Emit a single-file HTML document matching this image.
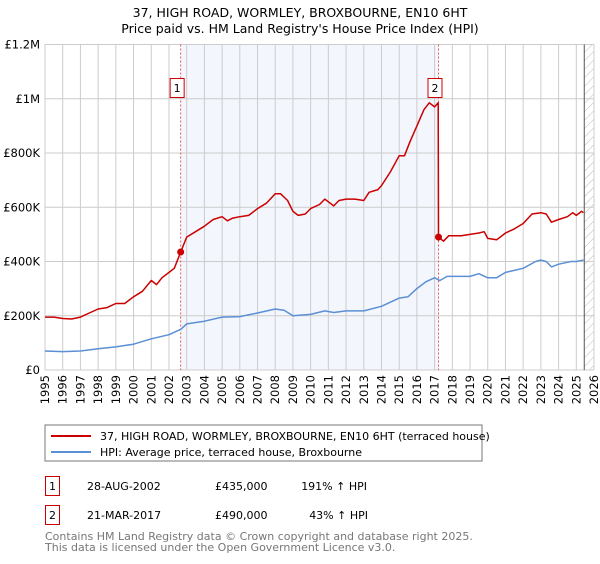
<!DOCTYPE html>
<html><head><meta charset="utf-8"><style>
body{margin:0;background:#fff;width:600px;height:560px;overflow:hidden;font-family:"DejaVu Sans","Liberation Sans",sans-serif;}
svg text{font-family:"DejaVu Sans","Liberation Sans",sans-serif;}
</style></head><body>
<svg id="chart" width="600" height="560">
<defs><pattern id="hatch" width="6" height="6" patternUnits="userSpaceOnUse" patternTransform="rotate(45)"><line x1="0" y1="0" x2="0" y2="6" stroke="#bbb" stroke-width="1"/></pattern></defs>
<text x="300" y="17" text-anchor="middle" font-size="12.5">37, HIGH ROAD, WORMLEY, BROXBOURNE, EN10 6HT</text>
<text x="300" y="33" text-anchor="middle" font-size="12.5">Price paid vs. HM Land Registry's House Price Index (HPI)</text>
<g id="plot"></g>
<rect x="45" y="425" width="437" height="36" fill="#fff" stroke="#777"/>
<line x1="51" y1="436" x2="91" y2="436" stroke="#cc0000" stroke-width="2"/>
<text x="100" y="440" font-size="11">37, HIGH ROAD, WORMLEY, BROXBOURNE, EN10 6HT (terraced house)</text>
<line x1="51" y1="452" x2="91" y2="452" stroke="#5b8fd6" stroke-width="2"/>
<text x="100" y="456" font-size="11">HPI: Average price, terraced house, Broxbourne</text>
<g>
<rect x="45.5" y="476.5" width="14" height="19" fill="#fff" stroke="#cc0000"/>
<text x="52.5" y="490" text-anchor="middle" font-size="11">1</text>
<text x="87" y="490" font-size="11">28-AUG-2002</text>
<text x="215" y="490" font-size="11">£435,000</text>
<text x="367" y="490" text-anchor="end" font-size="11">191% ↑ HPI</text></g>
<g>
<rect x="45.5" y="505.5" width="14" height="19" fill="#fff" stroke="#cc0000"/>
<text x="52.5" y="519" text-anchor="middle" font-size="11">2</text>
<text x="87" y="519" font-size="11">21-MAR-2017</text>
<text x="215" y="519" font-size="11">£490,000</text>
<text x="368" y="519" text-anchor="end" font-size="11">43% ↑ HPI</text></g>
<text x="45" y="540" font-size="11" fill="#777">Contains HM Land Registry data © Crown copyright and database right 2025.</text>
<text x="45" y="551" font-size="11" fill="#777">This data is licensed under the Open Government Licence v3.0.</text>
</svg>
<script>
const yTicks=[0,200,400,600,800,1000,1200];
const yTickLabels=["£0","£200K","£400K","£600K","£800K","£1M","£1.2M"];
const years=[1995,1996,1997,1998,1999,2000,2001,2002,2003,2004,2005,2006,2007,2008,2009,2010,2011,2012,2013,2014,2015,2016,2017,2018,2019,2020,2021,2022,2023,2024,2025,2026];
const saleDates=[2002.66,2017.22];
const salePrices=[435,490];
const saleLabels=["1","2"];
const priceT=[1995,1995.5,1996,1996.5,1997,1997.5,1998,1998.5,1999,1999.5,2000,2000.5,2001,2001.3,2001.6,2002,2002.3,2002.66,2003,2003.5,2004,2004.5,2005,2005.3,2005.6,2006,2006.5,2007,2007.5,2008,2008.3,2008.7,2009,2009.3,2009.7,2010,2010.5,2010.8,2011,2011.3,2011.6,2012,2012.5,2013,2013.3,2013.8,2014,2014.5,2015,2015.3,2015.6,2016,2016.4,2016.7,2017,2017.2,2017.22,2017.5,2017.8,2018.5,2019,2019.5,2019.8,2020,2020.5,2021,2021.5,2022,2022.5,2023,2023.3,2023.6,2024,2024.5,2024.8,2025,2025.3,2025.4];
const priceV=[195,195,190,188,195,210,225,230,245,245,270,290,330,315,340,360,375,435,490,510,530,555,565,550,560,565,570,595,615,650,650,625,585,570,575,595,610,630,620,605,625,630,630,625,655,665,680,730,790,790,840,900,960,985,970,985,490,475,495,495,500,505,510,485,480,505,520,540,575,580,575,545,555,565,580,570,585,580];
const hpiT=[1995,1996,1997,1998,1999,2000,2001,2002,2002.66,2003,2004,2005,2006,2007,2008,2008.5,2009,2010,2010.8,2011.3,2012,2013,2014,2015,2015.5,2016,2016.5,2017,2017.3,2017.7,2018.5,2019,2019.5,2020,2020.5,2021,2022,2022.7,2023,2023.3,2023.6,2024,2024.7,2025,2025.4];
const hpiV=[70,68,70,78,85,95,115,130,150,170,180,195,197,210,225,220,200,205,218,212,218,218,235,265,270,300,325,340,330,345,345,345,355,340,340,360,375,400,405,400,380,390,400,400,405];
const X0=45,X1=594,Y0=370,Y1=44.5;
const xs=t=>X0+(t-1995)/(2026-1995)*(X1-X0);
const ys=v=>Y0-v/1200*(Y0-Y1);
const NS="http://www.w3.org/2000/svg";
const g=document.getElementById('plot');
function mk(tag,attrs,parent){const e=document.createElementNS(NS,tag);for(const k in attrs)e.setAttribute(k,attrs[k]);(parent||g).appendChild(e);return e;}
let e=mk('rect',{x:X0,y:Y1,width:X1-X0,height:Y0-Y1,fill:'#fff'});


e=mk('rect',{x:xs(saleDates[0]),y:Y1,width:xs(saleDates[1])-xs(saleDates[0]),height:Y0-Y1,fill:'#f3f6fd'});


e=mk('rect',{x:xs(2025.45),y:Y1,width:X1-xs(2025.45),height:Y0-Y1,fill:'url(#hatch)'});


years.forEach((y,i)=>{
 e=mk('line',{x1:xs(y),x2:xs(y),y1:Y1,y2:Y0,stroke:'#ccc','stroke-width':1});
 
 
 e=mk('text',{x:0,y:0,'font-size':11.5,'text-anchor':'end',transform:`translate(${xs(y)+4},${Y0+5}) rotate(-90)`});
 e.textContent=y;
 
 
});
yTicks.forEach((v,i)=>{
 e=mk('line',{x1:X0,x2:X1,y1:ys(v),y2:ys(v),stroke:'#ccc','stroke-width':1});
 
 
 e=mk('text',{x:X0-5,y:ys(v)+4,'font-size':11.5,'text-anchor':'end'});
 e.textContent=yTickLabels[i];
 
 
});
e=mk('line',{x1:xs(2025.45),x2:xs(2025.45),y1:Y1,y2:Y0,stroke:'#555','stroke-width':1});


saleDates.forEach((d,i)=>{
 e=mk('line',{x1:xs(d),x2:xs(d),y1:Y1,y2:Y0,stroke:'#ee5555','stroke-width':1,'stroke-dasharray':'2,2'});
 
 
});
function line(T,V,col,name){
 const d=T.map((t,i)=>(i?'L':'M')+xs(t).toFixed(1)+','+ys(V[i]).toFixed(1)).join('');
 const p=mk('path',{d:d,fill:'none',stroke:col,'stroke-width':1.5,'stroke-linejoin':'round'});
 
 
}
line(hpiT,hpiV,'#5b8fd6','hpi-line');
line(priceT,priceV,'#cc0000','price-line');
saleDates.forEach((d,i)=>{
 e=mk('circle',{cx:xs(d),cy:ys(salePrices[i]),r:3.5,fill:'#cc0000'});
 
 
 e=mk('rect',{x:xs(d)-10.5,y:78.5,width:14,height:19,fill:'#fff',stroke:'#cc0000'});
 
 
 e=mk('text',{x:xs(d)-3.5,y:92,'font-size':11,'text-anchor':'middle'});
 e.textContent=saleLabels[i];
 
 
});
</script>
</body></html>
